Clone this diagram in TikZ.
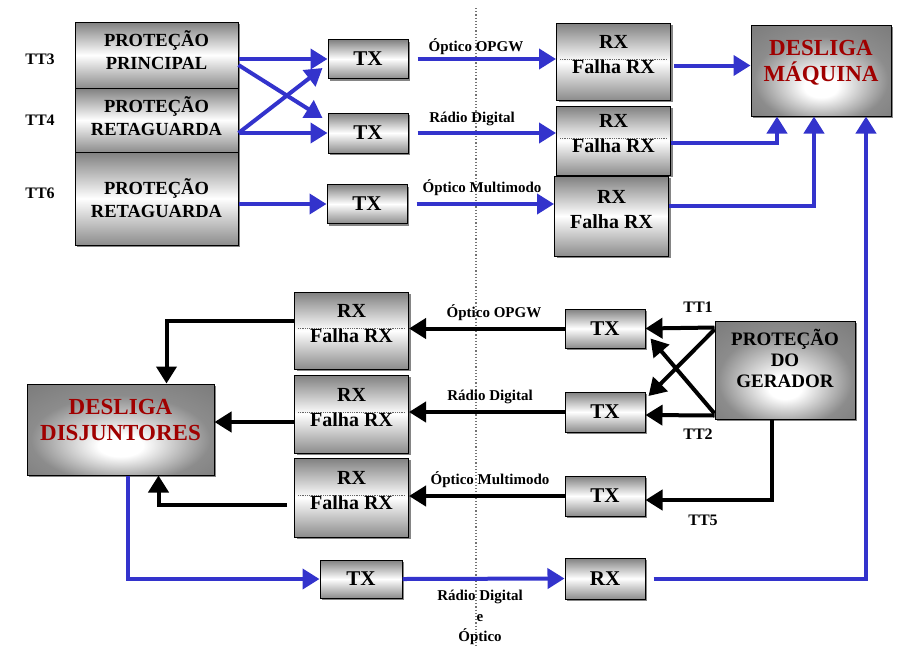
\documentclass[tikz,border=0pt]{standalone}
\usepackage{fontspec}
\setmainfont{Liberation Serif}
\usetikzlibrary{arrows.meta, shadows}
\definecolor{azul}{RGB}{51,51,204}
\definecolor{vinho}{RGB}{160,0,0}
\pgfdeclareradialshading{brilho}{\pgfpoint{0bp}{-10bp}}{color(0bp)=(white); color(6bp)=(white); color(24bp)=(black!45); color(50bp)=(black!58)}
\newcommand{\folga}[1]{\rule[-#1]{0pt}{0pt}}

\begin{document}
\begin{tikzpicture}[x=1pt, y=-1pt,
    caixa/.style={draw, line width=1pt, top color=black!50, bottom color=black!45, middle color=white, inner sep=0pt, align=center, drop shadow={shadow xshift=2pt, shadow yshift=-2pt, fill=black!60, opacity=0.8}},
    protbox/.style={caixa, minimum width=163pt, font=\fontsize{18.5}{23}\selectfont\bfseries},
    txbox/.style={caixa, minimum width=80pt, minimum height=39pt, font=\fontsize{21}{24}\selectfont\bfseries},
    rxbox/.style={caixa, minimum width=114pt, font=\fontsize{20}{25}\selectfont\bfseries},
    desliga/.style={draw, line width=1pt, shading=brilho, inner sep=0pt, align=center, text=vinho, font=\fontsize{23}{26}\selectfont\bfseries, drop shadow={shadow xshift=2pt, shadow yshift=-2pt, fill=black!60, opacity=0.8}},
    rotulo/.style={font=\fontsize{15}{17}\selectfont\bfseries},
    tt/.style={font=\fontsize{16}{18}\selectfont\bfseries},
    seta/.style={line width=4pt, -{Triangle[length=17pt, width=20pt]}},
    azulseta/.style={seta, draw=azul},
    pretaseta/.style={seta, draw=black},
    linha/.style={densely dotted, line width=0.8pt, black!60}
]
    \useasboundingbox (0,0) rectangle (917,646);

    % divisa
    \draw[dotted, line width=1.2pt, black!55] (476,8) -- (476,646);

    % lado da usina
    \node[tt] (tt3) at (40,59) {TT3};
    \node[tt] (tt4) at (40,120) {TT4};
    \node[tt] (tt6) at (40,193) {TT6};
    \node[protbox, minimum height=66pt] (pp) at (156.5,55) {PROTEÇÃO\\PRINCIPAL\folga{10pt}};
    \node[protbox, minimum height=64pt] (rt1) at (156.5,120) {PROTEÇÃO\\RETAGUARDA\folga{8pt}};
    \node[protbox, minimum height=93pt] (rt2) at (156.5,198.5) {PROTEÇÃO\\RETAGUARDA};

    \node[txbox] (tx1) at (368,59) {TX};
    \node[txbox, minimum height=40pt] (tx2) at (368,133) {TX};
    \node[txbox] (tx3) at (367,204) {TX};

    \node[rxbox, minimum height=77pt] (rx1) at (613.5,61.5) {RX\\Falha RX\folga{14pt}};
    \node[rxbox, minimum height=69pt] (rx2) at (613.5,140.5) {RX\\Falha RX\folga{14pt}};
    \node[rxbox, minimum height=80pt] (rx3) at (611.5,216) {RX\\Falha RX\folga{14pt}};

    \node[desliga, minimum width=140pt, minimum height=91pt] (dm) at (821,70.5) {DESLIGA\\MÁQUINA\folga{20pt}};

    % lado da subestacao
    \node[rxbox, minimum height=77pt] (rxa) at (351.5,330.5) {RX\\Falha RX\folga{14pt}};
    \node[rxbox, minimum height=78pt] (rxb) at (351.5,414) {RX\\Falha RX\folga{14pt}};
    \node[rxbox, minimum height=79pt] (rxc) at (351.5,497.5) {RX\\Falha RX\folga{14pt}};

    \node[txbox] (txa) at (605,328.5) {TX};
    \node[txbox, minimum height=40pt] (txb) at (605,412) {TX};
    \node[txbox, minimum height=40pt] (txc) at (605,496) {TX};

    \node[desliga, text=black, font=\fontsize{19}{21}\selectfont\bfseries, minimum width=140pt, minimum height=98pt] (pg) at (785,370) {PROTEÇÃO\\DO\\GERADOR\folga{24pt}};
    \node[desliga, minimum width=187pt, minimum height=91pt] (dd) at (120.5,429.5) {DESLIGA\\DISJUNTORES\folga{20pt}};

    \node[txbox, minimum width=82pt, minimum height=38pt] (txd) at (361,579) {TX};
    \node[txbox, minimum height=41pt] (rxd) at (605,578.5) {RX};

    \foreach \r in {rx1,rx2,rxa,rxb,rxc}
        \draw[linha] ([xshift=4pt,yshift=2pt]\r.west) -- ([xshift=-4pt,yshift=2pt]\r.east);

    % rotulos
    \node[rotulo] (m1) at (476,47) {Óptico OPGW};
    \node[rotulo] (m2) at (472,119) {Rádio Digital};
    \node[rotulo] (m3) at (482,188) {Óptico Multimodo};
    \node[rotulo] (m4) at (494,313) {Óptico OPGW};
    \node[rotulo] (m5) at (490,397) {Rádio Digital};
    \node[rotulo] (m6) at (490,480) {Óptico Multimodo};
    \node[rotulo] (m7) at (480,597) {Rádio Digital};
    \node[rotulo] (m8) at (480,618) {e};
    \node[rotulo] (m9) at (480,637) {Óptico};
    \node[tt] (tt1) at (698,307) {TT1};
    \node[tt] (tt2) at (698,434) {TT2};
    \node[tt] (tt5) at (703,520) {TT5};

    % setas azuis
    \draw[azulseta] ([yshift=-4pt]pp.east) -- (tx1.west);
    \draw[azulseta] ([yshift=-10pt]pp.east) -- ([xshift=-5pt,yshift=15pt]tx2.west);
    \draw[azulseta] ([yshift=-13pt]rt1.east) -- ([xshift=-5pt,yshift=-9pt]tx1.west);
    \draw[azulseta] ([yshift=-13pt]rt1.east) -- (tx2.west);
    \draw[azulseta] (rt2.east |- tx3.west) -- (tx3.west);
    \draw[azulseta, shorten <=9pt] (tx1.east) -- (rx1.west |- tx1.east);
    \draw[azulseta, shorten <=9pt] (tx2.east) -- (rx2.west |- tx2.east);
    \draw[azulseta, shorten <=9pt] (tx3.east) -- (rx3.west |- tx3.east);
    \draw[azulseta, shorten <=3pt] ([yshift=-4pt]rx1.east) -- ([yshift=5pt]dm.west);
    \draw[azulseta] ([yshift=-2pt]rx2.east) -| ([xshift=-44pt]dm.south);
    \draw[azulseta] ([yshift=10pt]rx3.east) -| ([xshift=-7pt]dm.south);
    \draw[azulseta] ([xshift=7pt]dd.south) |- (txd.west);
    \draw[azulseta] (txd.east) -- (rxd.west);
    \draw[azulseta, shorten <=8pt] (rxd.east) -| ([xshift=45pt]dm.south);

    % setas pretas
    \draw[pretaseta] ([yshift=-7pt]pg.north west) -- (txa.east);
    \draw[pretaseta] ([yshift=-9pt]pg.north west) -- ([xshift=3pt,yshift=16pt]txb.east);
    \draw[pretaseta] ([yshift=4pt]pg.south west) -- ([yshift=-3pt]txb.east);
    \draw[pretaseta] ([yshift=6pt]pg.south west) -- ([xshift=5pt,yshift=-10pt]txa.east);
    \draw[pretaseta] ([xshift=-13pt]pg.south) |- ([yshift=-4pt]txc.east);
    \draw[pretaseta] (txa.west) -- (rxa.east |- txa.west);
    \draw[pretaseta] (txb.west) -- (rxb.east |- txb.west);
    \draw[pretaseta] (txc.west) -- (rxc.east |- txc.west);
    \draw[pretaseta] ([yshift=10pt]rxa.west) -| ([xshift=46pt]dd.north);
    \draw[pretaseta] ([yshift=-8pt]rxb.west) -- ([yshift=7.5pt]dd.east);
    \draw[pretaseta, shorten <=7pt] ([yshift=-7pt]rxc.west) -| ([xshift=38pt]dd.south);
\end{tikzpicture}
\end{document}
